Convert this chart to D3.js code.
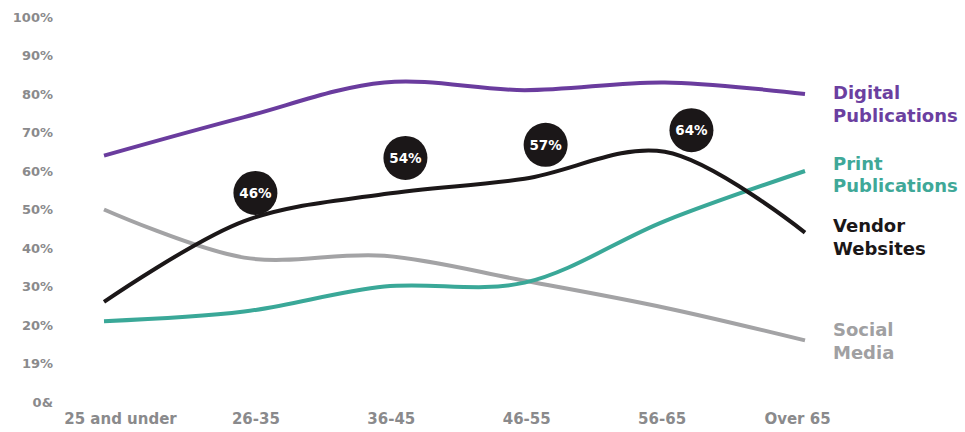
<!DOCTYPE html>
<html>
<head>
<meta charset="utf-8">
<script src="https://cdn.jsdelivr.net/npm/d3@7"></script>
<style>
  html, body { margin: 0; padding: 0; background: #fff; }
  svg { display: block; font-family: "DejaVu Sans", "Open Sans", sans-serif; }
</style>
</head>
<body>
<div id="chart"></div>
<script>
// Chart data
const ageGroups = ['25 and under', '26-35', '36-45', '46-55', '56-65', 'Over 65'];
const yTickValues = [0, 10, 20, 30, 40, 50, 60, 70, 80, 90, 100];
const yTickLabels = ['0&', '19%', '20%', '30%', '40%', '50%', '60%', '70%', '80%', '90%', '100%'];

const digitalPubs = [64, 74, 83, 81, 83, 80];
const printPubs = [21, 23.5, 30, 31, 47, 60];
const vendorSites = [26, 47, 54, 58, 65, 44];
const socialMedia = [50, 37.5, 38, 31.5, 24.5, 16];

const seriesNames = [['Digital', 'Publications'], ['Print', 'Publications'], ['Vendor', 'Websites'], ['Social', 'Media']];
const seriesLabelAt = [80.3, 62, 45.7, 18.7];

// bubble callouts on the vendor line (position in category index / percent units)
const bubbleText = ['46%', '54%', '57%', '64%'];
const bubbleIndex = [1.08, 2.15, 3.15, 4.19];
const bubbleValue = [54.3, 63.4, 66.8, 70.6];

const colors = ['#6a3c9e', '#3aa898', '#1b1718', '#a3a3a5'];
const labelColors = ['#6b3fa0', '#3fa898', '#1b1718', '#a0a0a2'];

const width = 965;
const height = 432;
const fontStack = '"DejaVu Sans", "Open Sans", sans-serif';

const svg = d3.select('#chart')
  .append('svg')
    .attr('width', width)
    .attr('height', height);

// Scales
const yScale = d3.scaleLinear().domain([0, 100]).range([402, 17]);
const xScale = d3.scalePoint().domain(ageGroups).range([104, 805]);
const xIndex = d3.scaleLinear().domain([0, ageGroups.length - 1]).range([104, 805]);
const xLabels = d3.scalePoint().domain(ageGroups).range([120, 797]);

// Y axis
svg.append('g')
  .attr('transform', 'translate(53, 0)')
  .call(d3.axisLeft(yScale).tickValues(yTickValues).tickSize(0).tickPadding(0)
    .tickFormat((d, i) => yTickLabels[i]))
  .call(g => g.select('.domain').remove())
  .selectAll('text')
    .attr('fill', '#8a8a8c')
    .style('font-family', fontStack)
    .style('font-size', '13px')
    .style('font-weight', 700);

// X axis
svg.append('g')
  .attr('transform', 'translate(0, 413)')
  .call(d3.axisBottom(xLabels).tickSize(0).tickPadding(0))
  .call(g => g.select('.domain').remove())
  .selectAll('text')
    .attr('fill', '#8a8a8c')
    .style('font-family', fontStack)
    .style('font-size', '15px')
    .style('font-weight', 700);

// Lines
const allSeries = [digitalPubs, printPubs, vendorSites, socialMedia];
const line = d3.line()
  .x((d, i) => xScale(ageGroups[i]))
  .y(d => yScale(d))
  .curve(d3.curveCatmullRom.alpha(0.5));

// draw social, print first so purple/black sit on top
const drawOrder = [3, 1, 0, 2];
svg.append('g')
  .selectAll('path')
  .data(drawOrder)
  .join('path')
    .attr('d', i => line(allSeries[i]))
    .attr('fill', 'none')
    .attr('stroke', i => colors[i])
    .attr('stroke-width', 4);

// Bubbles
const bubbles = svg.append('g')
  .selectAll('g')
  .data(bubbleText)
  .join('g')
    .attr('transform', (d, i) => `translate(${xIndex(bubbleIndex[i])}, ${yScale(bubbleValue[i])})`);

bubbles.append('circle')
  .attr('r', 22)
  .attr('fill', '#1b1718');

bubbles.append('text')
  .attr('text-anchor', 'middle')
  .attr('dy', '0.36em')
  .attr('fill', '#fff')
  .style('font-size', '13.5px')
  .style('font-weight', 700)
  .text(d => d);

// Series labels on the right
const labels = svg.append('g')
  .selectAll('text')
  .data(seriesNames)
  .join('text')
    .attr('x', xScale(ageGroups[ageGroups.length - 1]) + 28)
    .attr('y', (d, i) => yScale(seriesLabelAt[i]))
    .attr('fill', (d, i) => labelColors[i])
    .style('font-size', '18px')
    .style('font-weight', 700);

labels.selectAll('tspan')
  .data(d => d)
  .join('tspan')
    .attr('x', xScale(ageGroups[ageGroups.length - 1]) + 28)
    .attr('dy', (d, i) => i === 0 ? '0.35em' : '1.25em')
    .text(d => d);
</script>
</body>
</html>
